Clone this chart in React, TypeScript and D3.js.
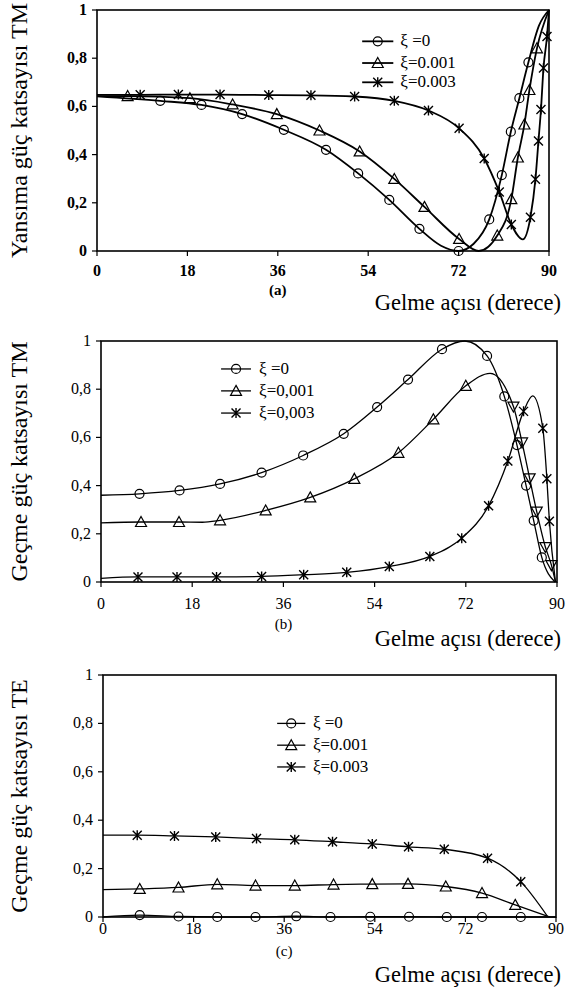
import React, { useEffect, useRef } from 'react';
import * as d3 from 'd3';

// axis ticks (degrees / power coefficient)
const xTicks = [0, 18, 36, 54, 72, 90];
const yTicks = [0, 0.2, 0.4, 0.6, 0.8, 1];
const yTickLabels = ['0', '0,2', '0,4', '0,6', '0,8', '1'];
const legendDot = ['ξ =0', 'ξ=0.001', 'ξ=0.003'];
const legendComma = ['ξ =0', 'ξ=0,001', 'ξ=0,003'];
const xTitle = 'Gelme açısı (derece)';

// (a) reflection TM : markers + extra points
const aMarks0 = [[12.6, 0.623], [20.8, 0.606], [28.9, 0.568], [37.2, 0.503], [45.6, 0.42], [52, 0.322], [58.2, 0.212], [64.2, 0.092], [72, 0], [78.1, 0.131], [80.6, 0.315], [82.4, 0.495], [84.1, 0.634], [85.9, 0.783]];
const aCurve0 = [[0, 0.642], [68.5, 0.022], [75, 0.03], [88, 0.935], [90, 1]];
const aMarks1 = [[6.1, 0.643], [18.5, 0.634], [27, 0.608], [35.8, 0.568], [44.3, 0.5], [52.3, 0.413], [59.2, 0.299], [65.2, 0.183], [72.1, 0.05], [79.7, 0.064], [82.5, 0.215], [83.8, 0.388], [85.1, 0.525], [86.1, 0.668], [87.6, 0.841]];
const aCurve1 = [[0, 0.643], [76, 0], [90, 1]];
const aMarks2 = [[8.6, 0.648], [16.2, 0.649], [24.5, 0.649], [34.2, 0.647], [42.6, 0.646], [51.3, 0.641], [59.2, 0.623], [66, 0.583], [72.1, 0.509], [77.1, 0.384], [80.1, 0.245], [82.5, 0.11], [86.3, 0.14], [87.3, 0.298], [87.9, 0.456], [88.4, 0.587], [88.9, 0.759], [89.6, 0.89]];
const aCurve2 = [[0, 0.648], [84.8, 0.048], [90, 1]];

// (b) transmission TM
const bMarks0 = [[7.6, 0.366], [15.5, 0.38], [23.5, 0.407], [31.7, 0.454], [39.9, 0.525], [47.9, 0.615], [54.5, 0.726], [60.6, 0.84], [67.3, 0.966], [76.2, 0.938], [79.6, 0.77], [82.1, 0.568], [83.9, 0.4], [85.4, 0.255], [87, 0.102]];
const bCurve0 = [[0, 0.36], [71.8, 1.0], [89.6, 0]];
const bMarks1 = [[7.9, 0.249], [15.4, 0.249], [23.5, 0.256], [32.5, 0.297], [41.3, 0.351], [50, 0.428], [58.7, 0.536], [65.6, 0.675], [72, 0.814]];
const bMarksDown1 = [[81.4, 0.728], [83.1, 0.579], [84.6, 0.43], [86, 0.292], [87.7, 0.145], [88.9, 0.07]];
const bCurve1 = [[0, 0.245], [20, 0.248], [76.8, 0.866], [89.7, 0]];
const bMarks2 = [[7.3, 0.021], [15, 0.021], [22.8, 0.021], [31.7, 0.023], [40, 0.03], [48.5, 0.04], [56.9, 0.064], [64.9, 0.106], [71.2, 0.182], [76.5, 0.316], [80.3, 0.502], [83.4, 0.708], [87.2, 0.638], [88, 0.428], [88.5, 0.252]];
const bCurve2 = [[0, 0.015], [85.2, 0.772], [89.7, 0]];

// (c) transmission TE
const cMarks0 = [[7.3, 0.008], [15, 0.002], [22.7, 0], [30.3, 0], [38.4, 0.003], [45.2, 0], [53.1, 0.001], [60.8, 0.001], [68.3, 0], [75.3, 0], [83, 0]];
const cCurve0 = [[0, 0], [90, 0]];
const cMarks1 = [[7.3, 0.116], [15, 0.122], [22.7, 0.135], [30.3, 0.13], [38.1, 0.13], [45.8, 0.134], [53.5, 0.136], [60.6, 0.137], [68.1, 0.126], [75.3, 0.099], [81.9, 0.05]];
const cCurve1 = [[0, 0.113], [88.8, 0]];
const cMarks2 = [[6.8, 0.338], [14.2, 0.335], [22.4, 0.331], [30.5, 0.324], [38.1, 0.319], [45.6, 0.311], [53.5, 0.302], [60.7, 0.29], [67.8, 0.28], [76.4, 0.243], [83, 0.146]];
const cCurve2 = [[0, 0.338], [88.4, 0]];

const merge = (marks, extra) => [...marks, ...extra].sort((p, q) => p[0] - q[0]);

const panels = [
  {
    box: { left: 97, right: 549, top: 10, bottom: 251 },
    yTitle: 'Yansıma güç katsayısı TM', caption: '(a)', bold: true, lw: 1.8,
    tickY: 276, capY: 295, titleY: 310,
    legendLabels: legendDot, legend: { x0: 52.8, x1: 59, tx: 60.4, rows: [0.87, 0.78, 0.7] },
    series: [
      { line: merge(aMarks0, aCurve0), marks: aMarks0, shape: 'circle' },
      { line: merge(aMarks1, aCurve1), marks: aMarks1, shape: 'tri' },
      { line: merge(aMarks2, aCurve2), marks: aMarks2, shape: 'star' },
    ],
  },
  {
    box: { left: 101, right: 557, top: 341, bottom: 582 },
    yTitle: 'Geçme güç katsayısı TM', caption: '(b)', bold: false, lw: 1.3,
    tickY: 609, capY: 629, titleY: 646,
    legendLabels: legendComma, legend: { x0: 23.7, x1: 29.6, tx: 31.2, rows: [0.884, 0.793, 0.701] },
    series: [
      { line: merge(bMarks0, bCurve0), marks: bMarks0, shape: 'circle' },
      { line: merge([...bMarks1, ...bMarksDown1], bCurve1), marks: bMarks1, shape: 'tri', extraMarks: bMarksDown1 },
      { line: merge(bMarks2, bCurve2), marks: bMarks2, shape: 'star' },
    ],
  },
  {
    box: { left: 103, right: 556, top: 675, bottom: 917 },
    yTitle: 'Geçme güç katsayısı TE', caption: '(c)', bold: false, lw: 1.3,
    tickY: 934, capY: 956, titleY: 982,
    legendLabels: legendDot, legend: { x0: 34.6, x1: 40.2, tx: 41.7, rows: [0.8, 0.71, 0.62] },
    series: [
      { line: merge(cMarks0, cCurve0), marks: cMarks0, shape: 'circle' },
      { line: merge(cMarks1, cCurve1), marks: cMarks1, shape: 'tri' },
      { line: merge(cMarks2, cCurve2), marks: cMarks2, shape: 'star' },
    ],
  },
];

function marker(g, shape, x, y) {
  if (shape === 'circle') {
    g.append('circle').attr('cx', x).attr('cy', y).attr('r', 4.5)
      .attr('fill', 'none').attr('stroke', '#000').attr('stroke-width', 1.2);
  } else if (shape === 'tri') {
    g.append('path').attr('d', `M${x},${y - 5.5}L${x + 5.5},${y + 4.5}L${x - 5.5},${y + 4.5}Z`)
      .attr('fill', 'none').attr('stroke', '#000').attr('stroke-width', 1.2);
  } else if (shape === 'triDown') {
    g.append('path').attr('d', `M${x},${y + 5.5}L${x + 5.5},${y - 4.5}L${x - 5.5},${y - 4.5}Z`)
      .attr('fill', 'none').attr('stroke', '#000').attr('stroke-width', 1.2);
  } else {
    g.append('path')
      .attr('d', `M${x - 4.5},${y - 4.5}L${x + 4.5},${y + 4.5}M${x + 4.5},${y - 4.5}L${x - 4.5},${y + 4.5}M${x},${y - 5}L${x},${y + 5}`)
      .attr('fill', 'none').attr('stroke', '#000').attr('stroke-width', 1.4);
  }
}

const App = () => {
  const svgRef = useRef(null);

  useEffect(() => {
    const svg = d3.select(svgRef.current);
    svg.selectAll('*').remove();
    const font = 'Liberation Serif, DejaVu Serif, serif';

    panels.forEach((p) => {
      const { left, right, top, bottom } = p.box;
      const x = d3.scaleLinear().domain([0, 90]).range([left, right]);
      const y = d3.scaleLinear().domain([0, 1]).range([bottom, top]);
      const g = svg.append('g').style('font-family', font);

      // frame
      g.append('rect').attr('x', left).attr('y', top).attr('width', right - left).attr('height', bottom - top)
        .attr('fill', 'none').attr('stroke', '#000').attr('stroke-width', 1.6);

      // ticks
      xTicks.forEach((t) => {
        g.append('line').attr('x1', x(t)).attr('x2', x(t)).attr('y1', bottom).attr('y2', bottom + 5)
          .attr('stroke', '#000').attr('stroke-width', 1.2);
        g.append('text').attr('x', x(t)).attr('y', p.tickY).attr('text-anchor', 'middle')
          .attr('font-size', 16).attr('font-weight', p.bold ? 'bold' : 'normal')
          .text(t);
      });
      yTicks.forEach((t, i) => {
        g.append('line').attr('x1', left - 5).attr('x2', left).attr('y1', y(t)).attr('y2', y(t))
          .attr('stroke', '#000').attr('stroke-width', 1.2);
        g.append('text').attr('x', left - 10).attr('y', y(t) + 5).attr('text-anchor', 'end')
          .attr('font-size', 16).attr('font-weight', p.bold ? 'bold' : 'normal')
          .text(yTickLabels[i]);
      });

      // titles
      g.append('text').attr('transform', `translate(27,${(top + bottom) / 2}) rotate(-90)`)
        .attr('text-anchor', 'middle').attr('font-size', 24)
        .text(p.yTitle);
      g.append('text').attr('x', x(36)).attr('y', p.capY).attr('text-anchor', 'middle')
        .attr('font-size', 15).attr('font-weight', p.bold ? 'bold' : 'normal')
        .text(p.caption);
      g.append('text').attr('x', 561).attr('y', p.titleY).attr('text-anchor', 'end')
        .attr('font-size', 22.5).text(xTitle);

      // curves and markers
      const line = d3.line().x((d) => x(d[0])).y((d) => y(d[1])).curve(d3.curveMonotoneX);
      p.series.forEach((s) => {
        g.append('path').datum(s.line).attr('d', line).attr('fill', 'none')
          .attr('stroke', '#000').attr('stroke-width', p.lw);
        s.marks.forEach((d) => marker(g, s.shape, x(d[0]), y(d[1])));
        if (s.extraMarks) s.extraMarks.forEach((d) => marker(g, 'triDown', x(d[0]), y(d[1])));
      });

      // legend
      const L = p.legend;
      p.series.forEach((s, i) => {
        const ly = y(L.rows[i]);
        g.append('line').attr('x1', x(L.x0)).attr('x2', x(L.x1)).attr('y1', ly).attr('y2', ly)
          .attr('stroke', '#000').attr('stroke-width', p.lw);
        marker(g, s.shape, (x(L.x0) + x(L.x1)) / 2, ly);
        g.append('text').attr('x', x(L.tx)).attr('y', ly + 5)
          .attr('font-size', 17).text(p.legendLabels[i]);
      });
    });
  }, []);

  return (
    <svg ref={svgRef} width={569} height={992}
      style={{ position: 'absolute', left: 0, top: 0, background: '#fff' }} />
  );
};

export default App;
